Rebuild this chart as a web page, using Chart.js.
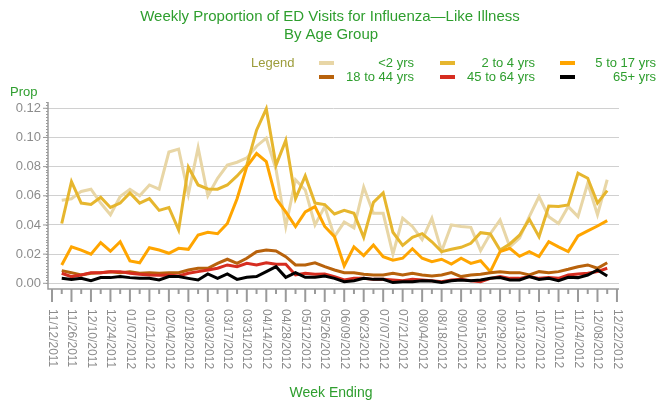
<!DOCTYPE html>
<html>
<head>
<meta charset="utf-8">
<script src="https://cdn.jsdelivr.net/npm/chart.js@4.4.1/dist/chart.umd.min.js"></script>
<style>
  html, body { margin: 0; padding: 0; background: #fff; }
  #wrap { width: 661px; height: 401px; position: relative; }
</style>
</head>
<body>
<div id="wrap"><canvas id="chart"></canvas></div>
<script>
// week ending dates (one per week, every other one is labelled)
const weeks = [
  '11/12/2011', '11/19/2011', '11/26/2011', '12/03/2011', '12/10/2011', '12/17/2011',
  '12/24/2011', '12/31/2011', '01/07/2012', '01/14/2012', '01/21/2012', '01/28/2012',
  '02/04/2012', '02/11/2012', '02/18/2012', '02/25/2012', '03/03/2012', '03/10/2012',
  '03/17/2012', '03/24/2012', '03/31/2012', '04/07/2012', '04/14/2012', '04/21/2012',
  '04/28/2012', '05/05/2012', '05/12/2012', '05/19/2012', '05/26/2012', '06/02/2012',
  '06/09/2012', '06/16/2012', '06/23/2012', '06/30/2012', '07/07/2012', '07/14/2012',
  '07/21/2012', '07/28/2012', '08/04/2012', '08/11/2012', '08/18/2012', '08/25/2012',
  '09/01/2012', '09/08/2012', '09/15/2012', '09/22/2012', '09/29/2012', '10/06/2012',
  '10/13/2012', '10/20/2012', '10/27/2012', '11/03/2012', '11/10/2012', '11/17/2012',
  '11/24/2012', '12/01/2012', '12/08/2012', '12/15/2012', '12/22/2012'
];

// proportions by age group (first and last week have no data)
const under2 = [null,
  0.057, 0.058, 0.063, 0.0645, 0.055, 0.047, 0.0595, 0.0645, 0.060, 0.0674,
  0.0645, 0.090, 0.092, 0.061, 0.093, 0.060, 0.072, 0.081, 0.083, 0.086,
  0.094, 0.0995, 0.078, 0.039, 0.071, 0.064, 0.040, 0.0526, 0.032, 0.042,
  0.038, 0.066, 0.048, 0.048, 0.020, 0.0446, 0.039, 0.030, 0.0446, 0.022,
  0.040, 0.039, 0.0384, 0.0224, 0.034, 0.0434, 0.025, 0.031, 0.0457, 0.0595,
  0.0457, 0.041, 0.0526, 0.0457, 0.0686, 0.047, 0.071, null];
const age2to4 = [null,
  0.041, 0.0697, 0.055, 0.054, 0.059, 0.052, 0.055, 0.062, 0.055, 0.058,
  0.050, 0.052, 0.0366, 0.0796, 0.0674, 0.0647, 0.0645, 0.0674, 0.0736, 0.081,
  0.105, 0.1196, 0.081, 0.098, 0.058, 0.0736, 0.055, 0.054, 0.0475, 0.050,
  0.048, 0.0315, 0.0555, 0.062, 0.035, 0.026, 0.0315, 0.034, 0.0285, 0.0217,
  0.0233, 0.0247, 0.0274, 0.0347, 0.0338, 0.0228, 0.027, 0.033, 0.044, 0.032,
  0.053, 0.0526, 0.0537, 0.0755, 0.072, 0.055, 0.0635, null];
const age5to17 = [null,
  0.0126, 0.025, 0.0228, 0.020, 0.0279, 0.022, 0.0285, 0.0153, 0.0141, 0.0244,
  0.0228, 0.0206, 0.024, 0.0233, 0.0331, 0.035, 0.034, 0.041, 0.058, 0.080,
  0.089, 0.0834, 0.058, 0.049, 0.0389, 0.049, 0.0526, 0.039, 0.032, 0.012,
  0.025, 0.019, 0.0263, 0.0183, 0.0158, 0.0172, 0.0237, 0.0172, 0.0148, 0.0165,
  0.0132, 0.0172, 0.0137, 0.0155, 0.008, 0.0217, 0.024, 0.0185, 0.0217, 0.0183,
  0.0285, 0.025, 0.0217, 0.0325, 0.0359, 0.0393, 0.043, null];
const age18to44 = [null,
  0.0087, 0.0073, 0.0057, 0.0069, 0.0073, 0.008, 0.0073, 0.008, 0.0069, 0.0073,
  0.0069, 0.0073, 0.0073, 0.0091, 0.0103, 0.0103, 0.0137, 0.0165, 0.0137, 0.0172,
  0.0217, 0.0228, 0.0222, 0.0183, 0.0126, 0.0126, 0.0141, 0.0114, 0.0091, 0.0073,
  0.0073, 0.0062, 0.0057, 0.0057, 0.0069, 0.0057, 0.0069, 0.0057, 0.005, 0.0057,
  0.0073, 0.0046, 0.0057, 0.0062, 0.0073, 0.008, 0.0073, 0.0073, 0.0057, 0.008,
  0.0073, 0.008, 0.0096, 0.0114, 0.0126, 0.0103, 0.0141, null];
const age45to64 = [null,
  0.0069, 0.0046, 0.0057, 0.0073, 0.0073, 0.008, 0.008, 0.0069, 0.0062, 0.0057,
  0.0055, 0.0057, 0.005, 0.0069, 0.008, 0.0091, 0.0103, 0.0126, 0.0114, 0.0137,
  0.0126, 0.0141, 0.013, 0.013, 0.0057, 0.0069, 0.0062, 0.0064, 0.0046, 0.0023,
  0.0034, 0.0034, 0.0027, 0.0027, 0.0023, 0.0018, 0.0027, 0.0023, 0.0018, 0.0011,
  0.0023, 0.0027, 0.0018, 0.0011, 0.0034, 0.0046, 0.0034, 0.0034, 0.0046, 0.0034,
  0.0039, 0.0034, 0.0057, 0.0064, 0.0069, 0.008, 0.0103, null];
const age65plus = [null,
  0.0034, 0.0027, 0.0034, 0.0018, 0.0039, 0.0039, 0.0046, 0.0039, 0.0034, 0.0034,
  0.0023, 0.0046, 0.0046, 0.0034, 0.0023, 0.0064, 0.0034, 0.0064, 0.0027, 0.0041,
  0.0046, 0.008, 0.0114, 0.0041, 0.0073, 0.0041, 0.0041, 0.005, 0.0034, 0.0011,
  0.0018, 0.0034, 0.0027, 0.0027, 0.0005, 0.0011, 0.0011, 0.0018, 0.0016, 0.0005,
  0.0018, 0.0023, 0.0018, 0.0023, 0.0034, 0.0039, 0.0023, 0.0023, 0.0046, 0.0027,
  0.0034, 0.0018, 0.0041, 0.0039, 0.0057, 0.0091, 0.005, null];

const groupNames = ['<2 yrs', '2 to 4 yrs', '5 to 17 yrs', '18 to 44 yrs', '45 to 64 yrs', '65+ yrs'];
const groupColors = ['#e8d6a6', '#e6b62e', '#ffa500', '#b8620c', '#d62d20', '#000000'];
const yTicks = [0, 0.02, 0.04, 0.06, 0.08, 0.10, 0.12];

const FONT = '"Liberation Sans", Arial, sans-serif';
const GREEN = '#2e9e2e';

const series = [under2, age2to4, age5to17, age18to44, age45to64, age65plus];
const datasets = series.map((vals, i) => ({
  label: groupNames[i],
  data: vals.map((v, k) => ({ x: k, y: v })),
  borderColor: groupColors[i],
  borderWidth: 3,
  pointRadius: 0,
  tension: 0,
  fill: false,
  order: series.length - i
}));

// SAS-like axes, ticks, titles and legend
const decorations = {
  id: 'decorations',
  afterDraw(chart) {
    const { ctx, chartArea: a, scales: { x, y } } = chart;
    ctx.save();

    // axis lines
    ctx.strokeStyle = '#9a9a9a';
    ctx.lineWidth = 1.5;
    ctx.beginPath();
    ctx.moveTo(a.left, a.top);
    ctx.lineTo(a.left, a.bottom);
    ctx.lineTo(a.right, a.bottom);
    ctx.stroke();

    // y ticks: minor every 0.002, major at labels
    ctx.lineWidth = 1;
    for (let v = 0; v <= 0.1241; v += 0.002) {
      const py = Math.round(y.getPixelForValue(v)) + 0.5;
      ctx.beginPath();
      ctx.moveTo(a.left - 2, py);
      ctx.lineTo(a.left, py);
      ctx.stroke();
    }
    ctx.fillStyle = '#8c8c8c';
    ctx.font = '13px ' + FONT;
    ctx.textAlign = 'right';
    ctx.textBaseline = 'middle';
    yTicks.forEach(v => {
      const py = y.getPixelForValue(v);
      ctx.beginPath();
      ctx.moveTo(a.left - 5, py);
      ctx.lineTo(a.left, py);
      ctx.stroke();
      ctx.fillText(v.toFixed(2), a.left - 7, py);
    });

    // x ticks: every week, longer every other week with a label
    ctx.lineWidth = 2;
    weeks.forEach((w, k) => {
      const px = x.getPixelForValue(k);
      const major = k % 2 === 0;
      ctx.beginPath();
      ctx.moveTo(px, a.bottom);
      ctx.lineTo(px, a.bottom + (major ? 13 : 5));
      ctx.stroke();
      if (major) {
        ctx.save();
        ctx.translate(px, a.bottom + 20);
        ctx.rotate(Math.PI / 2);
        ctx.font = '12px ' + FONT;
        ctx.textAlign = 'left';
        ctx.textBaseline = 'middle';
        ctx.fillText(w, 0, 0);
        ctx.restore();
      }
    });

    // titles
    ctx.fillStyle = GREEN;
    ctx.textAlign = 'center';
    ctx.textBaseline = 'middle';
    ctx.font = '15px ' + FONT;
    ctx.fillText('Weekly Proportion of ED Visits for Influenza\u2014Like Illness', 330, 17);
    ctx.fillText('By Age Group', 331, 35);
    ctx.font = '14px ' + FONT;
    ctx.fillText('Week Ending', 331, 393);
    ctx.font = '13px ' + FONT;
    ctx.textAlign = 'left';
    ctx.fillText('Prop', 10, 92);

    // legend
    ctx.fillStyle = '#9c9c3a';
    ctx.fillText('Legend', 251, 63);
    const swatchX = [319, 440, 560];
    const textRight = [414, 535, 656];
    const rowY = [63, 77];
    ctx.textAlign = 'right';
    groupNames.forEach((name, i) => {
      const col = i % 3, row = Math.floor(i / 3);
      ctx.fillStyle = groupColors[i];
      ctx.fillRect(swatchX[col], rowY[row] - 2, 15, 4);
      ctx.fillStyle = GREEN;
      ctx.fillText(name, textRight[col], rowY[row]);
    });

    ctx.restore();
  }
};

new Chart(document.getElementById('chart'), {
  type: 'line',
  data: { datasets },
  plugins: [decorations],
  options: {
    responsive: true,
    maintainAspectRatio: false,
    animation: false,
    events: [],
    layout: { padding: { left: 48, right: 42, top: 102, bottom: 112 } },
    plugins: { legend: { display: false }, tooltip: { enabled: false }, title: { display: false } },
    scales: {
      x: {
        type: 'linear',
        display: false,
        min: -0.41,
        max: 58.21
      },
      y: {
        min: -0.0039,
        max: 0.1243,
        afterBuildTicks: axis => { axis.ticks = yTicks.map(v => ({ value: v })); },
        ticks: { display: false },
        border: { display: false },
        grid: { color: '#d0d0d0', lineWidth: 1, drawTicks: false }
      }
    }
  }
});
</script>
</body>
</html>
